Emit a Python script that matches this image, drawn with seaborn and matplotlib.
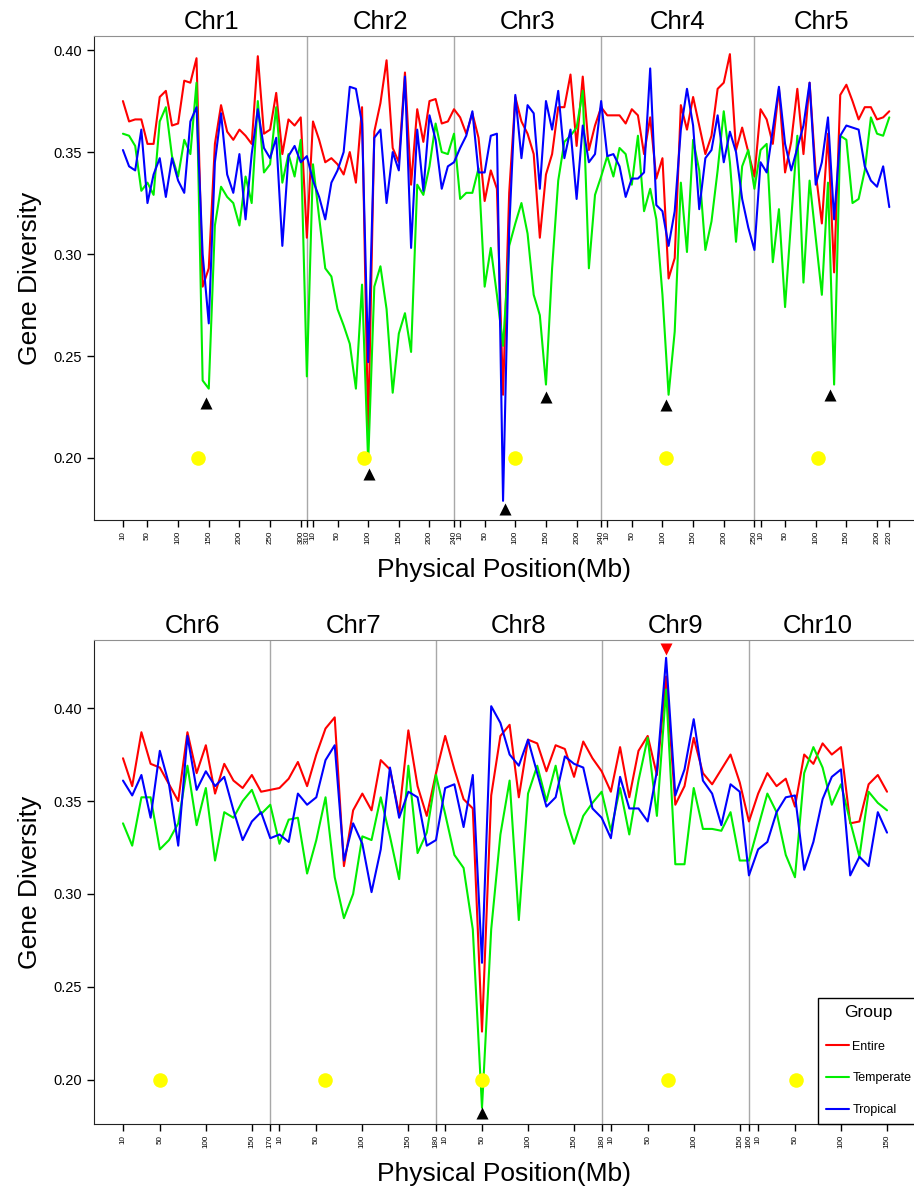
import numpy as np
import pandas as pd
import matplotlib
matplotlib.use("Agg")
import matplotlib.pyplot as plt
import seaborn as sns

# chromosome layout (Mb); values are every 10 Mb from 10 to the end
chr_names_top = ["Chr1", "Chr2", "Chr3", "Chr4", "Chr5"]
chr_len_top = [310, 240, 240, 250, 220]
chr_names_bot = ["Chr6", "Chr7", "Chr8", "Chr9", "Chr10"]
chr_len_bot = [170, 180, 180, 160, 150]

# gene diversity per chromosome
entire_chr1 = [0.375, 0.365, 0.366, 0.366, 0.354, 0.354, 0.377, 0.380, 0.363, 0.364,
               0.385, 0.384, 0.396, 0.284, 0.293, 0.354, 0.373, 0.360, 0.356, 0.361,
               0.358, 0.354, 0.397, 0.359, 0.361, 0.379, 0.349, 0.366, 0.363, 0.367, 0.308]
temperate_chr1 = [0.359, 0.358, 0.353, 0.331, 0.335, 0.329, 0.365, 0.372, 0.348, 0.338,
                  0.356, 0.349, 0.384, 0.238, 0.234, 0.314, 0.333, 0.328, 0.325, 0.314,
                  0.338, 0.325, 0.375, 0.340, 0.344, 0.372, 0.335, 0.349, 0.338, 0.356, 0.240]
tropical_chr1 = [0.351, 0.343, 0.341, 0.361, 0.325, 0.339, 0.347, 0.328, 0.347, 0.336,
                 0.330, 0.365, 0.372, 0.300, 0.266, 0.345, 0.369, 0.339, 0.330, 0.349,
                 0.317, 0.349, 0.371, 0.352, 0.347, 0.357, 0.304, 0.348, 0.353, 0.345, 0.348]

entire_chr2 = [0.365, 0.356, 0.345, 0.347, 0.344, 0.339, 0.350, 0.335, 0.372, 0.212,
               0.360, 0.374, 0.395, 0.352, 0.345, 0.389, 0.334, 0.371, 0.355, 0.375,
               0.376, 0.364, 0.365, 0.371]
temperate_chr2 = [0.344, 0.318, 0.293, 0.289, 0.273, 0.265, 0.256, 0.234, 0.285, 0.198,
                  0.284, 0.294, 0.273, 0.232, 0.261, 0.271, 0.252, 0.334, 0.329, 0.343,
                  0.364, 0.350, 0.349, 0.359]
tropical_chr2 = [0.336, 0.328, 0.317, 0.335, 0.341, 0.350, 0.382, 0.381, 0.364, 0.247,
                 0.357, 0.361, 0.325, 0.350, 0.341, 0.387, 0.303, 0.361, 0.331, 0.368,
                 0.356, 0.332, 0.343, 0.345]

entire_chr3 = [0.367, 0.359, 0.369, 0.357, 0.326, 0.341, 0.332, 0.231, 0.330, 0.377,
               0.365, 0.359, 0.349, 0.308, 0.339, 0.349, 0.372, 0.372, 0.388, 0.353,
               0.387, 0.351, 0.363, 0.372]
temperate_chr3 = [0.327, 0.330, 0.330, 0.342, 0.284, 0.303, 0.280, 0.255, 0.304, 0.315,
                  0.325, 0.310, 0.280, 0.270, 0.236, 0.293, 0.336, 0.355, 0.358, 0.362,
                  0.380, 0.293, 0.329, 0.338]
tropical_chr3 = [0.352, 0.358, 0.370, 0.340, 0.340, 0.358, 0.359, 0.179, 0.312, 0.378,
                 0.347, 0.373, 0.369, 0.332, 0.375, 0.361, 0.380, 0.347, 0.361, 0.327,
                 0.363, 0.345, 0.349, 0.375]

entire_chr4 = [0.368, 0.368, 0.368, 0.364, 0.371, 0.368, 0.349, 0.367, 0.337, 0.347,
               0.288, 0.298, 0.373, 0.361, 0.377, 0.363, 0.349, 0.358, 0.381, 0.384,
               0.398, 0.351, 0.362, 0.350, 0.338]
temperate_chr4 = [0.348, 0.338, 0.352, 0.349, 0.334, 0.358, 0.321, 0.332, 0.317, 0.280,
                  0.231, 0.262, 0.335, 0.301, 0.356, 0.341, 0.302, 0.316, 0.341, 0.370,
                  0.345, 0.306, 0.343, 0.351, 0.332]
tropical_chr4 = [0.348, 0.349, 0.343, 0.328, 0.337, 0.337, 0.340, 0.391, 0.324, 0.321,
                 0.304, 0.321, 0.361, 0.381, 0.363, 0.322, 0.347, 0.351, 0.368, 0.345,
                 0.360, 0.350, 0.327, 0.313, 0.302]

entire_chr5 = [0.371, 0.366, 0.354, 0.381, 0.340, 0.355, 0.381, 0.349, 0.384, 0.340,
               0.315, 0.359, 0.291, 0.378, 0.383, 0.375, 0.366, 0.372, 0.372, 0.366,
               0.367, 0.370]
temperate_chr5 = [0.351, 0.354, 0.296, 0.322, 0.274, 0.317, 0.358, 0.286, 0.336, 0.308,
                  0.280, 0.335, 0.236, 0.358, 0.356, 0.325, 0.327, 0.341, 0.367, 0.359,
                  0.358, 0.367]
tropical_chr5 = [0.345, 0.340, 0.361, 0.382, 0.354, 0.341, 0.352, 0.363, 0.384, 0.334,
                 0.345, 0.367, 0.317, 0.358, 0.363, 0.362, 0.361, 0.343, 0.336, 0.333,
                 0.343, 0.323]

entire_chr6 = [0.373, 0.358, 0.387, 0.370, 0.368, 0.359, 0.350, 0.387, 0.365, 0.380,
               0.354, 0.370, 0.361, 0.357, 0.364, 0.355, 0.356]
temperate_chr6 = [0.338, 0.326, 0.352, 0.352, 0.324, 0.329, 0.338, 0.369, 0.337, 0.357,
                  0.318, 0.344, 0.341, 0.350, 0.356, 0.343, 0.348]
tropical_chr6 = [0.361, 0.353, 0.364, 0.341, 0.377, 0.359, 0.326, 0.385, 0.356, 0.366,
                 0.358, 0.363, 0.345, 0.329, 0.339, 0.344, 0.330]

entire_chr7 = [0.357, 0.362, 0.371, 0.358, 0.375, 0.389, 0.395, 0.315, 0.345, 0.354,
               0.345, 0.372, 0.367, 0.343, 0.388, 0.358, 0.342, 0.365]
temperate_chr7 = [0.327, 0.340, 0.341, 0.311, 0.329, 0.352, 0.309, 0.287, 0.300, 0.331,
                  0.329, 0.352, 0.331, 0.308, 0.369, 0.322, 0.333, 0.364]
tropical_chr7 = [0.332, 0.328, 0.354, 0.348, 0.352, 0.372, 0.380, 0.318, 0.338, 0.327,
                 0.301, 0.324, 0.368, 0.341, 0.355, 0.352, 0.326, 0.329]

entire_chr8 = [0.385, 0.367, 0.351, 0.346, 0.226, 0.353, 0.385, 0.391, 0.352, 0.383,
               0.381, 0.366, 0.380, 0.378, 0.363, 0.382, 0.373, 0.366]
temperate_chr8 = [0.343, 0.321, 0.314, 0.281, 0.185, 0.281, 0.332, 0.361, 0.286, 0.354,
                  0.369, 0.350, 0.369, 0.343, 0.327, 0.342, 0.349, 0.355]
tropical_chr8 = [0.357, 0.359, 0.336, 0.364, 0.263, 0.401, 0.392, 0.375, 0.369, 0.383,
                 0.365, 0.347, 0.352, 0.374, 0.370, 0.368, 0.346, 0.341]

entire_chr9 = [0.355, 0.379, 0.352, 0.377, 0.385, 0.364, 0.417, 0.348, 0.358, 0.384,
               0.365, 0.359, 0.367, 0.375, 0.360, 0.339]
temperate_chr9 = [0.334, 0.357, 0.332, 0.361, 0.384, 0.342, 0.410, 0.316, 0.316, 0.357,
                  0.335, 0.335, 0.334, 0.344, 0.318, 0.318]
tropical_chr9 = [0.330, 0.363, 0.346, 0.346, 0.339, 0.366, 0.427, 0.353, 0.367, 0.394,
                 0.361, 0.354, 0.337, 0.359, 0.355, 0.310]

entire_chr10 = [0.354, 0.365, 0.358, 0.362, 0.347, 0.375, 0.370, 0.381, 0.375, 0.379,
                0.338, 0.339, 0.359, 0.364, 0.355]
temperate_chr10 = [0.336, 0.354, 0.344, 0.321, 0.309, 0.365, 0.379, 0.368, 0.348, 0.359,
                   0.339, 0.320, 0.355, 0.349, 0.345]
tropical_chr10 = [0.324, 0.328, 0.344, 0.352, 0.353, 0.313, 0.328, 0.351, 0.363, 0.367,
                  0.310, 0.320, 0.315, 0.344, 0.333]

# selection signals (chromosome index in panel, position Mb, value)
low_chr_top = [0, 1, 2, 2, 3, 4]
low_pos_top = [145, 101, 150, 83, 105, 123]
low_val_top = [0.227, 0.192, 0.230, 0.175, 0.226, 0.231]
low_chr_bot = [2]
low_pos_bot = [50]
low_val_bot = [0.182]
high_chr_bot = [3]
high_pos_bot = [70]
high_val_bot = [0.432]

# centromeres (position Mb in each chromosome)
centro_top = [133, 94, 100, 105, 104]
centro_bot = [50, 59, 50, 72, 51]

groups = ["Entire", "Temperate", "Tropical"]
palette = {"Entire": "#FF0000", "Temperate": "#00EE00", "Tropical": "#0000FF"}


def build_frame(lengths, entire, temperate, tropical):
    rows = []
    offset = 0
    for i, length in enumerate(lengths):
        pos = np.arange(10, length + 1, 10)
        for grp, vals in zip(groups, (entire[i], temperate[i], tropical[i])):
            for p, v in zip(pos, vals):
                rows.append((offset + p, v, grp))
        offset += length
    return pd.DataFrame(rows, columns=["pos", "gd", "Group"])


def draw_panel(ax, names, lengths, df, centro, lows, highs, xlim, ylim, legend):
    offsets = np.concatenate([[0], np.cumsum(lengths)[:-1]])

    for off in offsets[1:]:
        ax.axvline(off, color="#A8A8A8", lw=1, zorder=1)

    sns.lineplot(data=df, x="pos", y="gd", hue="Group", hue_order=groups,
                 palette=palette, estimator=None, sort=True, lw=1.5,
                 legend=legend, ax=ax, zorder=3)

    # centromeres
    ax.scatter(offsets + np.array(centro), [0.20] * len(centro), s=110,
               color="#FFFF00", zorder=4, linewidths=0)
    # signals
    c, p, v = lows
    ax.scatter(offsets[c] + np.array(p), v, marker="^", s=75, color="black",
               zorder=5, linewidths=0)
    if highs is not None:
        c, p, v = highs
        ax.scatter(offsets[c] + np.array(p), v, marker="v", s=75, color="#FF0000",
                   zorder=5, linewidths=0, clip_on=False)

    ticks, labels = [], []
    for off, length, name in zip(offsets, lengths, names):
        t = [10] + list(range(50, length, 50)) + [length]
        ticks += [off + x for x in t]
        labels += [str(x) for x in t]
        ax.annotate(name, xy=(off + length / 2, 1), xycoords=("data", "axes fraction"),
                    xytext=(0, 1.5), textcoords="offset points", ha="center",
                    va="bottom", fontsize=18.5)
    ax.set_xticks(ticks)
    ax.set_xticklabels(labels, rotation=90, fontsize=5.8)
    ax.set_yticks([0.20, 0.25, 0.30, 0.35, 0.40])
    ax.set_yticklabels(["0.20", "0.25", "0.30", "0.35", "0.40"], fontsize=10.5)
    ax.tick_params(axis="both", direction="out", length=5, width=1, color="black")
    ax.tick_params(axis="x", pad=3)
    ax.set_xlim(*xlim)
    ax.set_ylim(*ylim)
    ax.set_xlabel("Physical Position(Mb)", fontsize=19, labelpad=10)
    ax.set_ylabel("Gene Diversity", fontsize=19, labelpad=8)
    ax.spines["right"].set_visible(False)
    ax.spines["top"].set_color("#909090")
    ax.spines["left"].set_color("#222222")
    ax.spines["bottom"].set_color("#222222")


sns.set_style("ticks")
plt.rcParams["font.family"] = ["Liberation Sans", "DejaVu Sans"]
plt.rcParams["text.color"] = "black"
plt.rcParams["axes.labelcolor"] = "black"
plt.rcParams["xtick.color"] = "black"
plt.rcParams["ytick.color"] = "black"

fig = plt.figure(figsize=(9.14, 11.91), dpi=100)
ax_top = fig.add_axes([94 / 914, 1 - 520 / 1191, 820 / 914, 484 / 1191])
ax_bot = fig.add_axes([94 / 914, 1 - 1124 / 1191, 820 / 914, 484 / 1191])

df_top = build_frame(chr_len_top,
                     [entire_chr1, entire_chr2, entire_chr3, entire_chr4, entire_chr5],
                     [temperate_chr1, temperate_chr2, temperate_chr3, temperate_chr4, temperate_chr5],
                     [tropical_chr1, tropical_chr2, tropical_chr3, tropical_chr4, tropical_chr5])
df_bot = build_frame(chr_len_bot,
                     [entire_chr6, entire_chr7, entire_chr8, entire_chr9, entire_chr10],
                     [temperate_chr6, temperate_chr7, temperate_chr8, temperate_chr9, temperate_chr10],
                     [tropical_chr6, tropical_chr7, tropical_chr8, tropical_chr9, tropical_chr10])

draw_panel(ax_top, chr_names_top, chr_len_top, df_top, centro_top,
           (low_chr_top, low_pos_top, low_val_top), None,
           (-37.2, 1300.3), (0.1696, 0.4069), False)
draw_panel(ax_bot, chr_names_bot, chr_len_bot, df_bot, centro_bot,
           (low_chr_bot, low_pos_bot, low_val_bot),
           (high_chr_bot, high_pos_bot, high_val_bot),
           (-21.5, 869.3), (0.1763, 0.4366), True)

handles, labels = ax_bot.get_legend_handles_labels()
leg = ax_bot.legend(handles, labels, title="Group", loc="lower left",
                    bbox_to_anchor=(818 / 914, 1 - 1124 / 1191),
                    bbox_transform=fig.transFigure, fontsize=9, title_fontsize=12.5,
                    frameon=True, fancybox=False, edgecolor="black", framealpha=1,
                    borderpad=0.6, labelspacing=1.6, handlelength=1.9, handletextpad=0.25,
                    borderaxespad=0)
leg.get_frame().set_linewidth(1)

fig.savefig("out.png", dpi=100)
